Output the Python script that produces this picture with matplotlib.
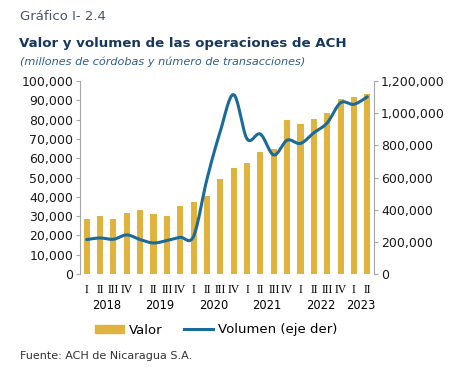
import numpy as np
import matplotlib
matplotlib.use("Agg")
from matplotlib import pyplot as plt
from matplotlib.transforms import blended_transform_factory
from matplotlib.lines import Line2D
from matplotlib.patches import Patch

# datos trimestrales 2018 I - 2023 II
trimestres = ["I", "II", "III", "IV"] * 5 + ["I", "II"]
anios = ["2018", "2019", "2020", "2021", "2022", "2023"]
valor = [28700, 30100, 28700, 31800, 33000, 31100, 30100, 35100, 37400, 40300, 49100,
         54700, 57400, 63100, 64900, 79600, 77900, 80100, 83400, 90500, 91900, 93100]
volumen = [214000, 224000, 216000, 243000, 214000, 193000, 208000, 228000, 235000, 590000,
           888000, 1115000, 840000, 870000, 740000, 832000, 812000, 878000, 940000,
           1065000, 1055000, 1102000]

gold = "#E0B33F"
blue = "#1A6A9A"
gray = "#A6A6A6"


def miles(x, pos):
    return f"{x:,.0f}"


def suavizar(x, y, n=20):
    # curva tipo Catmull-Rom, como la linea suavizada de Excel
    x = np.asarray(x, float)
    y = np.asarray(y, float)
    px = np.concatenate([[x[0]], x, [x[-1]]])
    py = np.concatenate([[y[0]], y, [y[-1]]])
    xs, ys = [], []
    t = np.linspace(0, 1, n)
    for i in range(1, len(px) - 2):
        p0, p1, p2, p3 = (np.array([px[j], py[j]]) for j in range(i - 1, i + 3))
        b1 = p1 + (p2 - p0) / 6
        b2 = p2 - (p3 - p1) / 6
        pts = ((1 - t) ** 3)[:, None] * p1 + (3 * (1 - t) ** 2 * t)[:, None] * b1 \
            + (3 * (1 - t) * t ** 2)[:, None] * b2 + (t ** 3)[:, None] * p2
        xs.extend(pts[:, 0])
        ys.extend(pts[:, 1])
    return xs, ys


fig = plt.figure(figsize=(4.63, 3.75), dpi=100)
ax = fig.add_axes([80 / 463, 101 / 375, 294 / 463, 193 / 375])
ax2 = ax.twinx()

x = np.arange(len(valor))
ax.bar(x, valor, width=0.45, color=gold, zorder=2)
sx, sy = suavizar(x, volumen)
ax2.plot(sx, sy, color=blue, lw=2.2, solid_capstyle="round")

ax.set_xlim(-0.5, len(valor) - 0.5)
ax.set_ylim(0, 100000)
ax2.set_ylim(0, 1200000)
ax.set_yticks(np.arange(0, 100001, 10000))
ax2.set_yticks(np.arange(0, 1200001, 200000))
ax.yaxis.set_major_formatter(miles)
ax2.yaxis.set_major_formatter(miles)

for a in (ax, ax2):
    for s in ("top", "bottom"):
        a.spines[s].set_visible(False)
    a.tick_params(axis="y", length=3, color=gray, labelsize=9, labelcolor="#1a1a1a", pad=2)
ax.spines["right"].set_visible(False)
ax.spines["left"].set_color(gray)
ax2.spines["left"].set_visible(False)
ax2.spines["right"].set_color(gray)

ax.set_xticks(x)
ax.set_xticklabels(trimestres, fontfamily="Liberation Serif", fontsize=8.5)
ax.tick_params(axis="x", length=0, pad=7)

tr = blended_transform_factory(ax.transData, ax.transAxes)
for i, a in enumerate(anios):
    centro = i * 4 + 1.5 if i < 5 else 20.5
    ax.text(centro, -0.165, a, transform=tr, ha="center", va="center", fontsize=8.3)

fig.text(20 / 463, 1 - 17 / 375, "Gráfico I- 2.4", fontsize=9.5, color="#44546A", va="center")
fig.text(19 / 463, 1 - 43 / 375, "Valor y volumen de las operaciones de ACH", fontsize=9.6,
         fontweight="bold", color="#17375E", va="center")
fig.text(20 / 463, 1 - 62 / 375, "(millones de córdobas y número de transacciones)",
         fontsize=8.1, style="italic", color="#2E5E8E", va="center")
fig.text(20 / 463, 1 - 356 / 375, "Fuente: ACH de Nicaragua S.A.", fontsize=8, color="#333333",
         va="center")

handles = [Patch(color=gold), Line2D([0], [0], color=blue, lw=2.2)]
fig.legend(handles, ["Valor", "Volumen (eje der)"], loc="center", bbox_to_anchor=(216 / 463, 1 - 330 / 375),
           ncol=2, frameon=False, fontsize=9.5, handlelength=2.2, handleheight=0.5,
           columnspacing=1.6, handletextpad=0.4)

fig.savefig("out.png", dpi=100)
